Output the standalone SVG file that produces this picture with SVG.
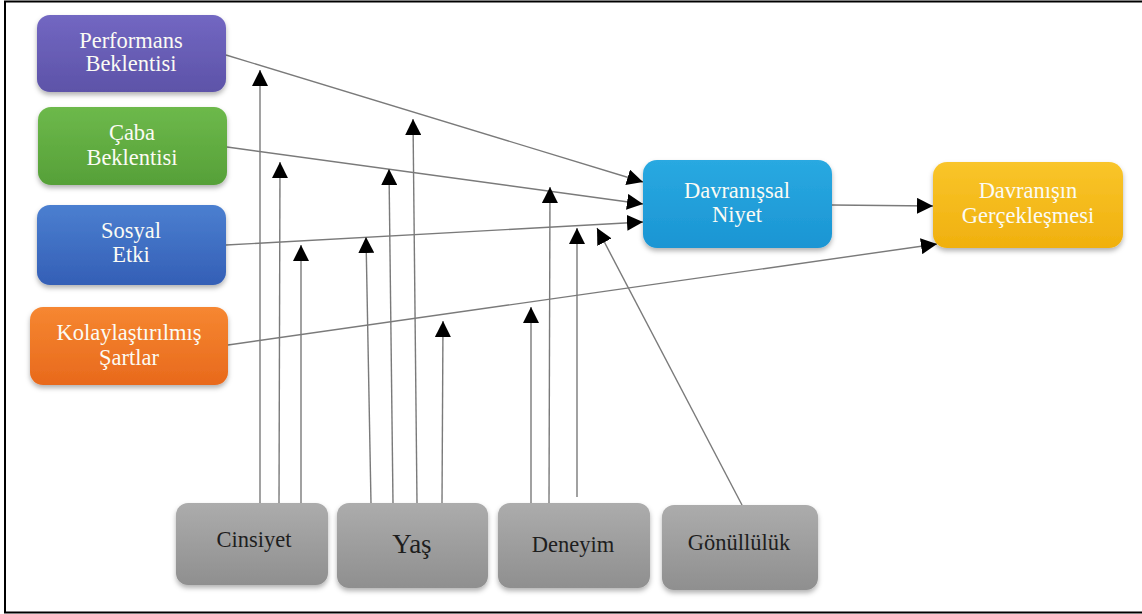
<svg xmlns="http://www.w3.org/2000/svg" width="1142" height="614" viewBox="0 0 1142 614" font-family="'Liberation Serif', 'DejaVu Serif', serif">
<style>
text{font-family:'Liberation Serif','DejaVu Serif',serif}
.lbl{font-size:22.5px;fill:#fbfbf4;text-anchor:middle}
.dk{font-size:22.5px;fill:#1e1e1e;text-anchor:middle}
.big{font-size:27px}
.cn{stroke:#7a7a7a;stroke-width:1.4;fill:none;marker-end:url(#ah)}
.box{filter:url(#sh)}
</style>
<defs>
<filter id="sh" x="-10%" y="-10%" width="120%" height="130%">
<feDropShadow dx="0" dy="3" stdDeviation="2.5" flood-color="#000" flood-opacity="0.3"/>
</filter>
<marker id="ah" markerUnits="userSpaceOnUse" markerWidth="16" markerHeight="16" viewBox="0 0 14 14" refX="14" refY="7" orient="auto">
<path d="M0,0 L14,7 L0,14 Z" fill="#000"/>
</marker>
<linearGradient id="gP" x1="0" y1="0" x2="0" y2="1"><stop offset="0" stop-color="#7267c2"/><stop offset="1" stop-color="#5d53a8"/></linearGradient>
<linearGradient id="gG" x1="0" y1="0" x2="0" y2="1"><stop offset="0" stop-color="#6db94b"/><stop offset="1" stop-color="#56a038"/></linearGradient>
<linearGradient id="gB" x1="0" y1="0" x2="0" y2="1"><stop offset="0" stop-color="#4b7fd0"/><stop offset="1" stop-color="#345fb6"/></linearGradient>
<linearGradient id="gO" x1="0" y1="0" x2="0" y2="1"><stop offset="0" stop-color="#f68731"/><stop offset="1" stop-color="#e8691c"/></linearGradient>
<linearGradient id="gC" x1="0" y1="0" x2="0" y2="1"><stop offset="0" stop-color="#29a9e1"/><stop offset="1" stop-color="#1b95d3"/></linearGradient>
<linearGradient id="gY" x1="0" y1="0" x2="0" y2="1"><stop offset="0" stop-color="#f9c52a"/><stop offset="1" stop-color="#f0b00e"/></linearGradient>
<linearGradient id="gK" x1="0" y1="0" x2="0" y2="1"><stop offset="0" stop-color="#acacac"/><stop offset="1" stop-color="#8f8f8f"/></linearGradient>
</defs>
<rect width="1142" height="614" fill="#fff"/>
<path d="M1142,1.5 H5 V612.5 H1142" fill="none" stroke="#000" stroke-width="2"/>

<g id="connectors">
<line class="cn" x1="226" y1="55" x2="643" y2="182"/>
<line class="cn" x1="227" y1="147" x2="643" y2="204"/>
<line class="cn" x1="226" y1="245" x2="643" y2="222"/>
<line class="cn" x1="228" y1="345" x2="937" y2="244"/>
<line class="cn" x1="832" y1="205" x2="933" y2="206"/>
<line class="cn" x1="260" y1="503" x2="260" y2="70"/>
<line class="cn" x1="279" y1="503" x2="280" y2="162"/>
<line class="cn" x1="301" y1="503" x2="301" y2="245"/>
<line class="cn" x1="371" y1="503" x2="366" y2="237"/>
<line class="cn" x1="393" y1="503" x2="389" y2="169"/>
<line class="cn" x1="417" y1="503" x2="413" y2="119"/>
<line class="cn" x1="442" y1="503" x2="443" y2="321"/>
<line class="cn" x1="531" y1="503" x2="531" y2="307"/>
<line class="cn" x1="549" y1="503" x2="550" y2="187"/>
<line class="cn" x1="577" y1="497" x2="577" y2="228"/>
<line class="cn" x1="742" y1="505" x2="597" y2="228"/>
</g>

<g id="performans">
<rect class="box" x="37" y="15" width="189" height="77" rx="13" fill="url(#gP)"/>
<text class="lbl" x="131" y="48">Performans</text>
<text class="lbl" x="131" y="71">Beklentisi</text>
</g>
<g id="caba">
<rect class="box" x="38" y="107" width="189" height="78" rx="13" fill="url(#gG)"/>
<text class="lbl" x="132" y="140">Çaba</text>
<text class="lbl" x="132" y="165">Beklentisi</text>
</g>
<g id="sosyal">
<rect class="box" x="37" y="205" width="189" height="80" rx="13" fill="url(#gB)"/>
<text class="lbl" x="131" y="238">Sosyal</text>
<text class="lbl" x="131" y="262">Etki</text>
</g>
<g id="kolaylastirilmis">
<rect class="box" x="30" y="307" width="198" height="78" rx="13" fill="url(#gO)"/>
<text class="lbl" x="129" y="340">Kolaylaştırılmış</text>
<text class="lbl" x="129" y="365">Şartlar</text>
</g>
<g id="niyet">
<rect class="box" x="643" y="160" width="189" height="88" rx="14" fill="url(#gC)"/>
<text class="lbl" x="737" y="198">Davranışsal</text>
<text class="lbl" x="737" y="222">Niyet</text>
</g>
<g id="gerceklesmesi">
<rect class="box" x="933" y="162" width="190" height="86" rx="14" fill="url(#gY)"/>
<text class="lbl" x="1028" y="198">Davranışın</text>
<text class="lbl" x="1028" y="223">Gerçekleşmesi</text>
</g>
<g id="cinsiyet">
<rect class="box" x="176" y="503" width="152" height="82" rx="12" fill="url(#gK)"/>
<text class="dk" x="254" y="547">Cinsiyet</text>
</g>
<g id="yas">
<rect class="box" x="337" y="503" width="151" height="85" rx="12" fill="url(#gK)"/>
<text class="dk big" x="412" y="553">Yaş</text>
</g>
<g id="deneyim">
<rect class="box" x="498" y="503" width="152" height="85" rx="12" fill="url(#gK)"/>
<text class="dk" x="573" y="552">Deneyim</text>
</g>
<g id="gonulluluk">
<rect class="box" x="662" y="505" width="156" height="85" rx="12" fill="url(#gK)"/>
<text class="dk" x="739" y="550">Gönüllülük</text>
</g>
</svg>
